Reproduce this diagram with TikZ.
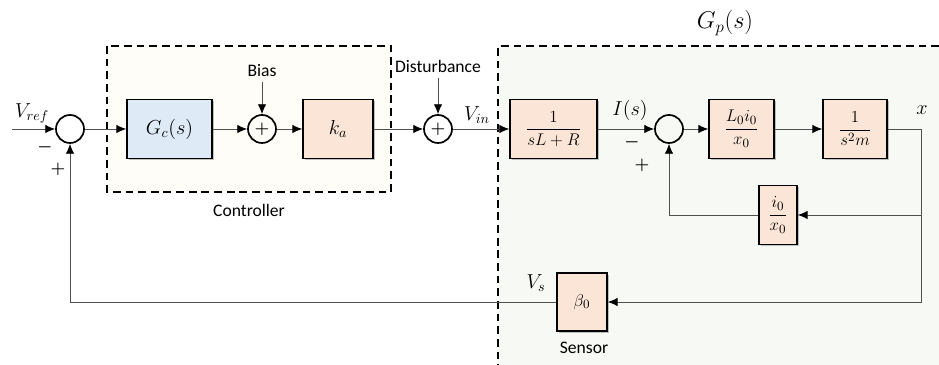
\documentclass[tikz,border=0pt]{standalone}
\usepackage{amsmath}
\usepackage{bm}
\usepackage{fontspec}
\setsansfont{Carlito}
\usepackage{xcolor}
\definecolor{peach}{HTML}{FBE5D6}
\definecolor{sky}{HTML}{DEEBF7}
\definecolor{cream}{HTML}{FFFDF7}
\definecolor{mint}{HTML}{F7FAF4}
\definecolor{wire}{HTML}{505050}
\usepackage{tikz}
\usetikzlibrary{arrows.meta,shadows}

\begin{document}
\begin{tikzpicture}[x=0.025cm, y=-0.025cm, font=\Large,
  block/.style={draw=black, line width=1.1pt, inner sep=0pt, minimum height=1.475cm,
    drop shadow={shadow xshift=1.3pt, shadow yshift=-1.3pt, opacity=0.4, fill=black!60}},
  frac/.style={font=\fontsize{13}{15}\selectfont},
  adder/.style={circle, draw=black, line width=1.2pt, inner sep=0pt, minimum size=0.7cm, font=\large},
  link/.style={draw=wire, line width=0.6pt, -{Latex[length=7pt, width=6pt, black]}},
  region/.style={line width=1.2pt, dash pattern=on 5.5pt off 3.5pt},
  sign/.style={font=\large},
  tag/.style={font=\sffamily\fontsize{12.5}{15}\selectfont}]
  \useasboundingbox (0,0) rectangle (939,365);

  % Controller and plant regions
  \fill[cream] (107,46) rectangle (391,192);
  \draw[region] (107,46) rectangle (391,192);
  \fill[mint] (498,46) rectangle (939,365);
  \draw[region] (939,46) -- (498,46) -- (498,365);

  % Blocks
  \node[adder] (s1) at (70,129) {};
  \node[block, fill=sky, minimum width=2.125cm] (gc) at (169.5,129) {$G_c(s)$};
  \node[adder] (s2) at (262,129) {$\bm{+}$};
  \node[block, fill=peach, minimum width=1.75cm] (ka) at (338,129) {$k_a$};
  \node[adder] (s3) at (438,129) {$\bm{+}$};
  \node[block, fill=peach, minimum width=2.175cm, frac] (coil) at (553.5,129) {$\dfrac{1}{sL+R}$};
  \node[adder] (s4) at (669,129) {};
  \node[block, fill=peach, minimum width=1.625cm, frac] (force) at (741.5,129) {$\dfrac{L_0 i_0}{x_0}$};
  \node[block, fill=peach, minimum width=1.6cm, frac] (mass) at (855,129) {$\dfrac{1}{s^2 m}$};
  \node[block, fill=peach, minimum width=0.95cm, frac] (stiff) at (778,215) {$\dfrac{i_0}{x_0}$};
  \node[block, fill=peach, minimum width=1.25cm, minimum height=1.45cm, frac] (sens) at (582,302) {$\beta_0$};

  % Free ends
  \coordinate (in) at (12,129);
  \coordinate (bias) at (262,82);
  \coordinate (dist) at (438,78);
  \coordinate (xout) at (921,129);
  \coordinate (xmid) at (921,215);
  \coordinate (xbot) at (921,302);

  % Signal path
  \draw[link] (in) -- (s1);
  \draw[link] (s1) -- (gc);
  \draw[link] (gc) -- (s2);
  \draw[link] (bias) -- (s2);
  \draw[link] (s2) -- (ka);
  \draw[link] (ka) -- (s3);
  \draw[link] (dist) -- (s3);
  \draw[link] (s3) -- (coil);
  \draw[link] (coil) -- (s4);
  \draw[link] (s4) -- (force);
  \draw[link] (force) -- (mass);
  \draw[link] (mass.east) -- (xout) -- (xbot) -- (sens.east);
  \draw[link] (xmid) -- (stiff.east);
  \draw[link] (stiff.west) -| (s4.south);
  \draw[link] (sens.west) -| (s1.south);

  % Labels
  \node (lref) at (32,113) {$V_{ref}$};
  \node[sign] (lm1) at (45,147) {$\bm{-}$};
  \node[sign] (lp1) at (58,169) {$\bm{+}$};
  \node[tag, above] (lbias) at (bias) {Bias};
  \node[tag, above] (ldist) at (dist) {Disturbance};
  \node[tag] (lctrl) at (249,210) {Controller};
  \node (lvin) at (477,115) {$V_{in}$};
  \node (lcur) at (630,110) {$I(s)$};
  \node[sign] (lm4) at (632,142) {$\bm{-}$};
  \node[sign] (lp4) at (642,165) {$\bm{+}$};
  \node (lx) at (922,110) {$x$};
  \node[font=\fontsize{18}{20}\selectfont] (lgp) at (725,23) {$G_p(s)$};
  \node (lvs) at (536,283) {$V_s$};
  \node[tag] (lsens) at (584,348) {Sensor};

\end{tikzpicture}
\end{document}
